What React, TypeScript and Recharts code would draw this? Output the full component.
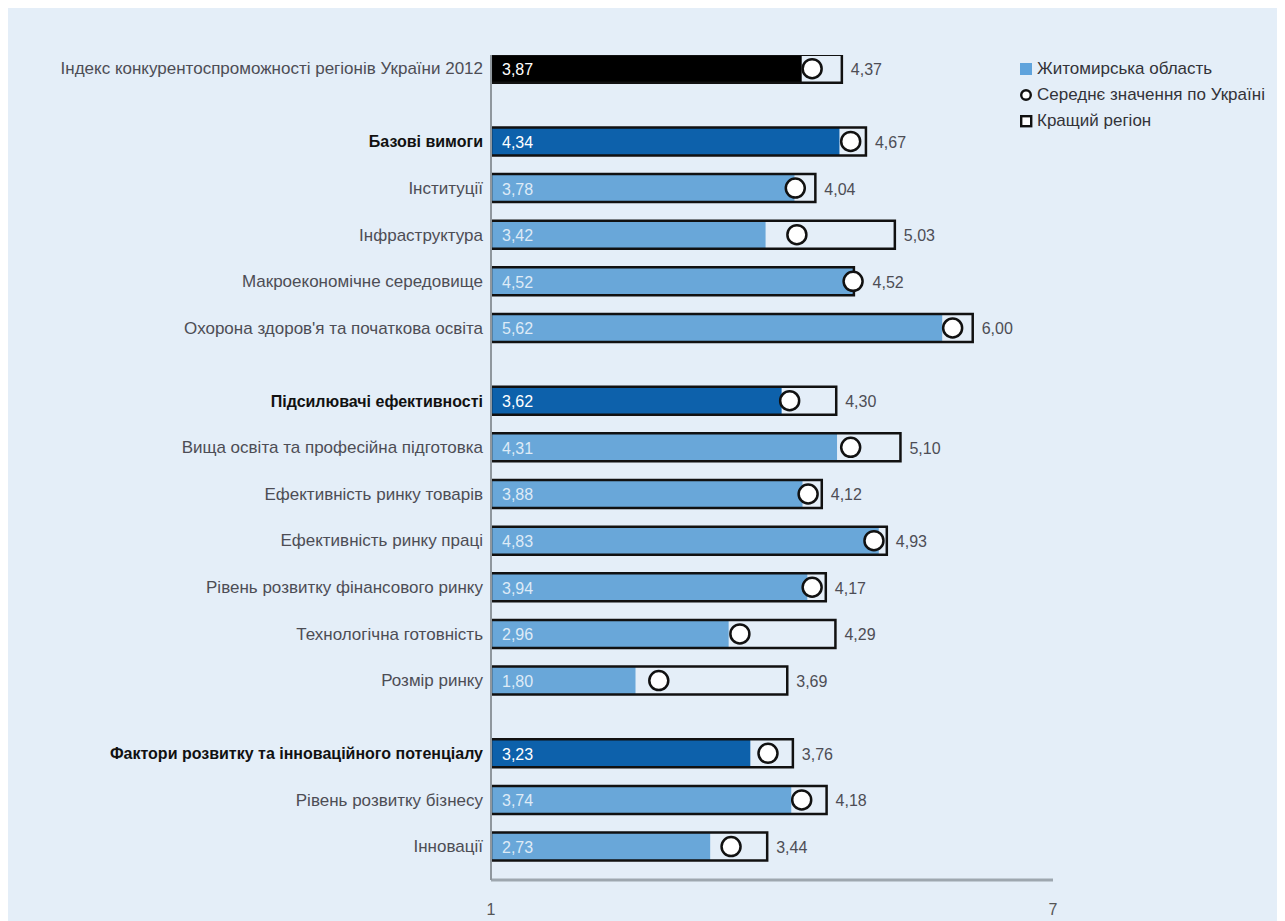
import React from "react";
import {
  ComposedChart,
  Bar,
  XAxis,
  YAxis,
  Cell,
  LabelList,
} from "recharts";

// categories, top to bottom
const categories = [
  "Індекс конкурентоспроможності регіонів України 2012",
  "Базові вимоги",
  "Інституції",
  "Інфраструктура",
  "Макроекономічне середовище",
  "Охорона здоров'я та початкова освіта",
  "Підсилювачі ефективності",
  "Вища освіта та професійна підготовка",
  "Ефективність ринку товарів",
  "Ефективність ринку праці",
  "Рівень розвитку фінансового ринку",
  "Технологічна готовність",
  "Розмір ринку",
  "Фактори розвитку та інноваційного потенціалу",
  "Рівень розвитку бізнесу",
  "Інновації",
];

// row type: total index, pillar (sub-index) or component
const rowKinds = [
  "total",
  "pillar", "item", "item", "item", "item",
  "pillar", "item", "item", "item", "item", "item", "item",
  "pillar", "item", "item",
];

const rowGroups = [0, 1, 1, 1, 1, 1, 2, 2, 2, 2, 2, 2, 2, 3, 3, 3];

// Житомирська область
const zhytomyr = [3.87, 4.34, 3.78, 3.42, 4.52, 5.62, 3.62, 4.31, 3.88, 4.83, 3.94, 2.96, 1.8, 3.23, 3.74, 2.73];
// Середнє значення по Україні
const ukraineAvg = [4.0, 4.48, 3.79, 3.81, 4.51, 5.75, 3.72, 4.48, 3.95, 4.77, 4.0, 3.1, 2.09, 3.45, 3.87, 2.99];
// Кращий регіон
const bestRegion = [4.37, 4.67, 4.04, 5.03, 4.52, 6.0, 4.3, 5.1, 4.12, 4.93, 4.17, 4.29, 3.69, 3.76, 4.18, 3.44];

const xTicks = [0, 7];
const xTickLabels = ["1", "7"];

const legendItems = ["Житомирська область", "Середнє значення по Україні", "Кращий регіон"];

const GROUP_GAP = 0.56;
const FONT = "'Liberation Sans Narrow', 'Arial Narrow', 'Liberation Sans', Arial, sans-serif";
const BG = "#e4eef8";
const FILLS: Record<string, string> = { total: "#000000", pillar: "#0d61ab", item: "#69a7d9" };
const MARKER_R = 9.5;

const rows = categories.map((name, i) => ({
  name,
  kind: rowKinds[i],
  zhytomyr: zhytomyr[i],
  avg: ukraineAvg[i],
  best: bestRegion[i],
  pos: i + GROUP_GAP * rowGroups[i],
}));

const fmt = (v: number) => v.toFixed(2).replace(".", ",");

const RowTick = (props: any) => {
  const { x, y, payload } = props;
  const row = rows.find((r) => Math.abs(r.pos - payload.value) < 1e-6);
  if (!row) return null;
  const bold = row.kind === "pillar";
  return (
    <text
      x={x}
      y={y}
      textAnchor="end"
      dominantBaseline="central"
      fontFamily={FONT}
      fontSize={bold ? 16 : 17}
      fontWeight={bold ? 700 : 400}
      fill={bold ? "#111111" : "#4d4d55"}
    >
      {row.name}
    </text>
  );
};

const AvgMarker = (props: any) => {
  const { x, y, width, height } = props;
  return (
    <circle
      cx={x + width}
      cy={y + height / 2}
      r={MARKER_R}
      fill="#ffffff"
      stroke="#111111"
      strokeWidth={2.5}
    />
  );
};

const InsideLabel = (props: any) => {
  const { x, y, height, value, index } = props;
  const kind = rows[index]?.kind;
  return (
    <text
      x={x + 11}
      y={y + height / 2 + 1}
      dominantBaseline="central"
      fontFamily={FONT}
      fontSize={16}
      fill={kind === "item" ? "#deebf7" : "#ffffff"}
    >
      {fmt(value)}
    </text>
  );
};

const BestLabel = (props: any) => {
  const { x, y, width, height, value, index } = props;
  // keep the label clear of the average marker when it sits on the box edge
  const avg = rows[index]?.avg ?? 0;
  const markerRight = x + (avg * width) / value + MARKER_R + 1;
  const left = Math.max(x + width, markerRight);
  return (
    <text
      x={left + 9}
      y={y + height / 2 + 1}
      dominantBaseline="central"
      fontFamily={FONT}
      fontSize={16}
      fill="#4d4d55"
    >
      {fmt(value)}
    </text>
  );
};

const LegendIcon = ({ i }: { i: number }) => {
  if (i === 0) return <svg width={14} height={14}><rect x={0} y={1} width={12} height={12} fill="#5fa3dc" /></svg>;
  if (i === 1)
    return (
      <svg width={14} height={14}>
        <circle cx={6} cy={7} r={4.8} fill="#fff" stroke="#111" strokeWidth={2.4} />
      </svg>
    );
  return (
    <svg width={14} height={14}>
      <rect x={1.2} y={2.2} width={10} height={10} fill="#fff" stroke="#111" strokeWidth={2.4} />
    </svg>
  );
};

export default function App() {
  return (
    <div style={{ position: "relative", width: 1269, height: 913, background: BG }}>
      <style>{"body{overflow:hidden}"}</style>
      <ComposedChart
        width={1269}
        height={913}
        layout="vertical"
        data={rows}
        margin={{ top: 47, right: 224, left: 10, bottom: 11 }}
        barGap={-28}
      >
        <XAxis
          type="number"
          domain={[0, 7]}
          ticks={xTicks}
          allowDataOverflow
          tickFormatter={(_v: number, i: number) => xTickLabels[i]}
          axisLine={{ stroke: "#9ea7af", strokeWidth: 3 }}
          tickLine={false}
          tickMargin={18}
          height={30}
          tick={{ fontFamily: FONT, fontSize: 16, fill: "#555" }}
        />
        <YAxis
          type="number"
          dataKey="pos"
          domain={[-0.3, 17.39]}
          allowDataOverflow
          ticks={rows.map((r) => r.pos)}
          interval={0}
          width={473}
          tickLine={false}
          axisLine={{ stroke: "#8f979e", strokeWidth: 2 }}
          tick={<RowTick />}
        />
        <Bar dataKey="zhytomyr" barSize={28} isAnimationActive={false}>
          {rows.map((r, i) => (
            <Cell key={i} fill={FILLS[r.kind]} />
          ))}
          <LabelList dataKey="zhytomyr" content={<InsideLabel />} />
        </Bar>
        <Bar
          dataKey="best"
          barSize={28}
          fill="none"
          stroke="#111111"
          strokeWidth={2.5}
          isAnimationActive={false}
        >
          <LabelList dataKey="best" content={<BestLabel />} />
        </Bar>
        <Bar dataKey="avg" barSize={28} shape={<AvgMarker />} isAnimationActive={false} />
      </ComposedChart>
      <div
        style={{
          position: "absolute",
          left: 1012,
          top: 48,
          fontFamily: FONT,
          fontSize: 17,
          color: "#333338",
          lineHeight: "26px",
        }}
      >
        {legendItems.map((t, i) => (
          <div key={t} style={{ display: "flex", alignItems: "center", gap: 3 }}>
            <LegendIcon i={i} />
            <span>{t}</span>
          </div>
        ))}
      </div>
    </div>
  );
}
